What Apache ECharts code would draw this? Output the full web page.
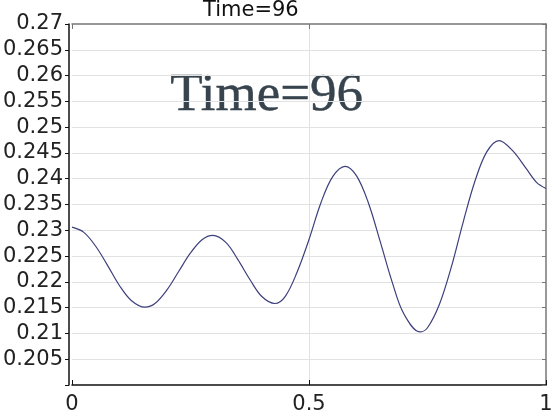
<!DOCTYPE html>
<html>
<head>
<meta charset="utf-8">
<script src="https://cdn.jsdelivr.net/npm/echarts@6/dist/echarts.min.js"></script>
<style>html,body{margin:0;padding:0;background:#fff}#c{width:551px;height:412px}</style>
</head>
<body>
<div id="c"></div>
<script>
// Data
const xs = [0,0.025,0.05,0.075,0.1,0.125,0.154,0.175,0.2,0.225,0.25,0.275,0.297,0.325,0.35,0.375,0.4,0.428,0.45,0.475,0.5,0.525,0.55,0.576,0.6,0.625,0.65,0.675,0.7,0.734,0.75,0.775,0.8,0.825,0.85,0.875,0.901,0.93,0.958,0.98,1];
const ys = [0.2306,0.2296,0.2269,0.2232,0.2193,0.2164,0.2151,0.2158,0.2184,0.2220,0.2256,0.2282,0.2290,0.2276,0.2243,0.2205,0.2172,0.2158,0.2172,0.2219,0.2282,0.2353,0.2404,0.2424,0.2406,0.2354,0.2279,0.2201,0.2138,0.2103,0.2111,0.2156,0.2228,0.2315,0.2395,0.2452,0.2474,0.2454,0.2420,0.2393,0.2381];
const xTickLabels = ['0','0.5','1'];
const yTickLabels = ['','0.205','0.21','0.215','0.22','0.225','0.23','0.235','0.24','0.245','0.25','0.255','0.26','0.265','0.27'];
const titleText = 'Time=96';
const annotationText = 'Time=96';

const chart = echarts.init(document.getElementById('c'), null, {renderer:'canvas'});
const font = 'DejaVu Sans';
const axisMin = {x:0, y:0.2};
const step = {x:0.5, y:0.005};
chart.setOption({
  animation:false,
  backgroundColor:'#fff',
  title:{text:titleText, left:203, top:0, padding:0,
    textStyle:{fontFamily:font, fontSize:21, fontWeight:'normal', color:'#111'}},
  grid:{left:72, right:5, top:24, bottom:27, containLabel:false, outerBoundsMode:'none'},
  graphic:[{type:'text', left:170, top:69,
    style:{text:annotationText, font:'53px "Liberation Serif"', fill:'#37434d', stroke:'#37434d', lineWidth:0.4}}],
  xAxis:[
    {type:'value', position:'bottom', min:0, max:1, interval:0.5,
     axisLine:{onZero:false, lineStyle:{color:'#111', width:1.5}},
     axisTick:{inside:true, length:5, lineStyle:{color:'#111'}},
     axisLabel:{fontFamily:font, fontSize:21, color:'#222', margin:9,
       formatter:v=>xTickLabels[Math.round((v-axisMin.x)/step.x)] ?? ''},
     splitLine:{show:true, showMinLine:false, showMaxLine:false, lineStyle:{color:'#e2e2e2', width:1}}},
    {type:'value', position:'top', min:0, max:1, interval:0.5,
     axisLine:{onZero:false, lineStyle:{color:'#777', width:1.5}},
     axisTick:{inside:true, length:5, lineStyle:{color:'#777'}},
     axisLabel:{show:false}, splitLine:{show:false}}
  ],
  yAxis:[
    {type:'value', position:'left', min:0.2, max:0.27, interval:0.005, offset:3,
     axisLine:{show:true, onZero:false, lineStyle:{color:'#111', width:1.5}},
     axisTick:{show:true, inside:false, length:4, lineStyle:{color:'#111'}},
     axisLabel:{fontFamily:font, fontSize:21, color:'#222', margin:6,
       formatter:v=>yTickLabels[Math.round((v-axisMin.y)/step.y)] ?? ''},
     splitLine:{show:true, showMinLine:false, showMaxLine:false, lineStyle:{color:'#e2e2e2', width:1}}},
    {type:'value', position:'right', min:0.2, max:0.27, interval:0.005,
     axisLine:{show:true, onZero:false, lineStyle:{color:'#777', width:1.5}},
     axisTick:{show:true, inside:true, length:4, lineStyle:{color:'#777'}},
     axisLabel:{show:false}, splitLine:{show:false}}
  ],
  series:[{type:'line', xAxisIndex:0, yAxisIndex:0, smooth:0.35, symbol:'none',
    lineStyle:{color:'#3d3f7c', width:1.2},
    data:xs.map((x,i)=>[x, ys[i]])}]
});
</script>
</body>
</html>
